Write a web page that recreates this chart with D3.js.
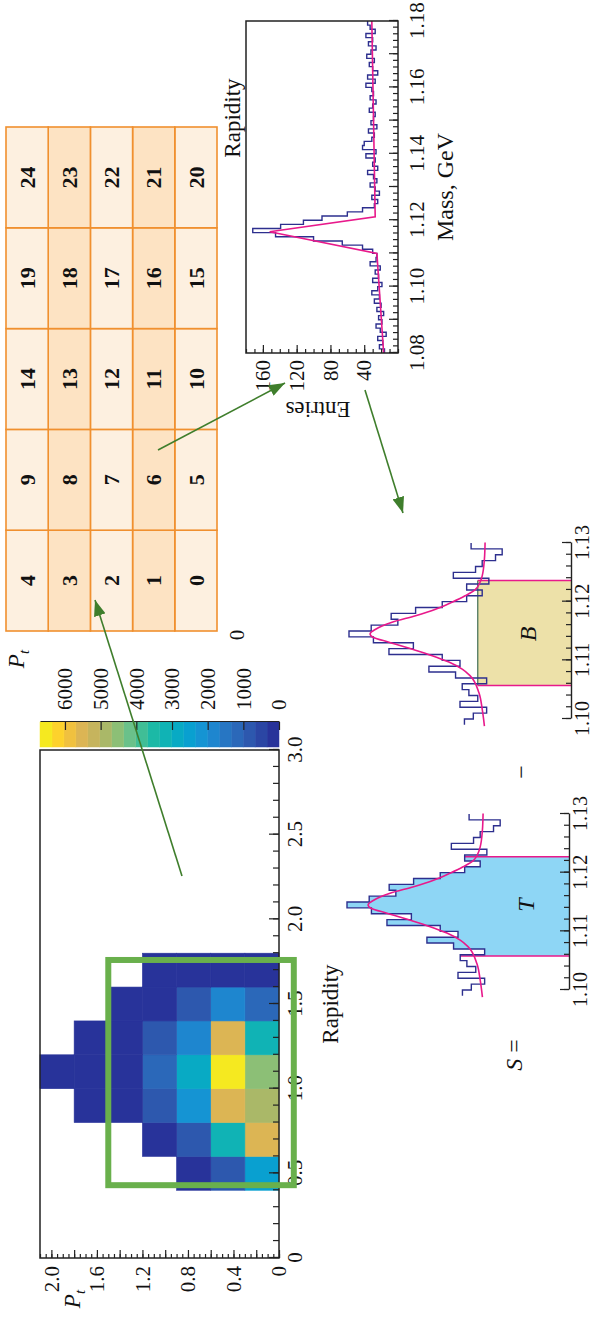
<!DOCTYPE html>
<html>
<head>
<meta charset="utf-8">
<script src="https://cdn.jsdelivr.net/npm/d3@7"></script>
<style>
  html, body { margin: 0; padding: 0; background: #fff; }
  svg { display: block; }
  text { font-family: "Liberation Serif", "DejaVu Serif", serif; fill: #111; }
</style>
</head>
<body>
<svg id="fig" width="594" height="1323"></svg>
<script>
// ---------------- data ----------------
// Heat map: lower bin edges (rapidity width 0.2, Pt width 0.3) and counts [rapidity][Pt]
const rapidityBins = [0.4, 0.6, 0.8, 1.0, 1.2, 1.4, 1.6];
const ptBins = [0, 0.3, 0.6, 0.9, 1.2, 1.5, 1.8];
const counts = [
  [2500,  800,  200,  null, null, null, null],
  [5500, 3300,  800,  150,  null, null, null],
  [4850, 5500, 2100,  800,  150,  100,  null],
  [4500, 6500, 2850, 1100,  150,  100,   60],
  [3200, 5500, 1800,  800,  150,  100,  null],
  [1100, 1800,  800,  150,  100,  null, null],
  [ 150,  100,   80,   50,  null, null, null]
];
const colorMax = 6700;
const colorBands = ["#28339a", "#2b46a4", "#2d58ae", "#2b68b9", "#2776c3", "#1e86cf", "#1594d3",
  "#09a0d0", "#08aac4", "#10b3b5", "#1cb9a6", "#40be96", "#6ac18a", "#8cbf76", "#aab868",
  "#c6b45d", "#dcb554", "#f0c13f", "#fdd22c", "#f5e920"];
const colorTicks = [0, 1000, 2000, 3000, 4000, 5000, 6000];
const rapidityTicks = [0, 0.5, 1.0, 1.5, 2.0, 2.5, 3.0];
const ptTicks = [0, 0.4, 0.8, 1.2, 1.6, 2.0];
const selRapidity = [0.43, 1.76];
const selPt = [-0.13, 1.5];

// Bin numbering table: 5 rapidity columns x 5 Pt rows
const tableCols = [0, 1, 2, 3, 4];
const tableRows = [0, 1, 2, 3, 4];
const cellIds = d3.range(25);

// Invariant mass spectrum of one bin
const massStart = 1.08, massBinWidth = 0.00125;
const massEntries = [
  16, 22, 18, 24, 14, 21, 26, 19, 23, 17,
  25, 20, 28, 22, 31, 24, 19, 30, 23, 27,
  21, 33, 26, 25, 30, 42, 66, 100, 145, 172,
  139, 112, 90, 60, 42, 28, 24, 31, 22, 27,
  33, 25, 29, 36, 24, 30, 27, 38, 26, 42,
  40, 31, 28, 35, 25, 32, 29, 27, 34, 30,
  26, 33, 29, 31, 38, 27, 36, 24, 30, 34,
  28, 37, 32, 26, 35, 30, 38, 27, 33, 36
];
const massFit = [[1.08, 17], [1.110, 25], [1.1165, 152], [1.121, 27], [1.18, 31]];
const massTicks = [1.08, 1.10, 1.12, 1.14, 1.16, 1.18];
const entryTicks = [40, 80, 120, 160];

// Zoomed peak used for the total (T) and background (B) windows
const zoomStart = 1.099, zoomBinWidth = 0.001;
const zoomEntries = [48, 44, 38, 50, 42, 46, 49, 38, 52, 64, 50, 58, 82, 71, 89, 100,
  90, 78, 81, 70, 58, 47, 40, 47, 37, 53, 43, 40, 34, 31, 45];
const zoomFit = [[1.0988, 39], [1.1017, 40], [1.1045, 41.5], [1.1074, 45.5], [1.1085, 49],
  [1.1097, 55], [1.1108, 62.5], [1.1119, 71.5], [1.1131, 82], [1.1139, 89], [1.1145, 90.5],
  [1.1153, 88], [1.1165, 80.6], [1.1176, 70], [1.1187, 61], [1.1199, 53.6], [1.1210, 47.7],
  [1.1221, 43], [1.1244, 40], [1.1273, 39], [1.1301, 38.7]];
const zoomTicks = [1.10, 1.11, 1.12, 1.13];
const windowT = [1.1058, 1.1227];
const windowB = [1.1057, 1.1236];
const bgLevel = 42;

// ---------------- drawing ----------------
const FONT = '"Liberation Serif", "DejaVu Serif", serif';
const svg = d3.select("#fig");
// whole figure is laid out landscape and turned a quarter turn
const root = svg.append("g").attr("transform", "translate(0,1323) rotate(-90)");

const GREEN = "#3f7e2c", NAVY = "#2d2f8e", PINK = "#e8198b";

function styleAxis(g, size) {
  g.attr("font-family", FONT).attr("font-size", size);
  g.selectAll(".tick line").attr("stroke", "#222").attr("stroke-width", 1.2);
  g.selectAll(".tick text").attr("fill", "#111");
  return g;
}

// ---- heat map ----
const xRap = d3.scaleLinear().domain([0, 3]).range([65, 573]);
const yPt = d3.scaleLinear().domain([0, 2.1]).range([279, 40]);
const color = d3.scaleQuantize().domain([0, colorMax]).range(colorBands);

const cells = [];
counts.forEach((row, i) => row.forEach((v, j) => {
  if (v != null) cells.push({ r: rapidityBins[i], p: ptBins[j], v });
}));
root.append("g").selectAll("rect").data(cells).join("rect")
  .attr("x", d => xRap(d.r))
  .attr("width", d => xRap(d.r + 0.2) - xRap(d.r))
  .attr("y", d => yPt(d.p + 0.3))
  .attr("height", d => yPt(d.p) - yPt(d.p + 0.3))
  .attr("fill", d => color(d.v))
  .attr("stroke", d => color(d.v)).attr("stroke-width", 0.6);

root.append("rect").attr("x", 65).attr("y", 40).attr("width", 508).attr("height", 239)
  .attr("fill", "none").attr("stroke", "#222").attr("stroke-width", 1.5);

// rapidity axis (ticks point into the frame)
const gx = root.append("g").attr("transform", "translate(0,279)");
gx.append("g").call(d3.axisBottom(xRap).tickValues(d3.range(0, 3.001, 0.1)).tickSizeInner(-6).tickSizeOuter(0).tickFormat(""))
  .call(g => g.select(".domain").remove()).call(g => styleAxis(g, 21));
gx.append("g").call(d3.axisBottom(xRap).tickValues(rapidityTicks).tickSizeInner(-10).tickSizeOuter(0).tickPadding(8)
    .tickFormat(d => d === 0 ? "0" : d.toFixed(1)))
  .call(g => g.select(".domain").remove()).call(g => styleAxis(g, 21));

// Pt axis
const gy = root.append("g").attr("transform", "translate(65,0)");
gy.append("g").call(d3.axisLeft(yPt).tickValues(d3.range(0, 2.1001, 0.05)).tickSizeInner(-4).tickSizeOuter(0).tickFormat(""))
  .call(g => g.select(".domain").remove()).call(g => styleAxis(g, 21));
gy.append("g").call(d3.axisLeft(yPt).tickValues(d3.range(0, 2.1001, 0.2)).tickSizeInner(-8).tickSizeOuter(0).tickFormat(""))
  .call(g => g.select(".domain").remove()).call(g => styleAxis(g, 21));
gy.append("g").call(d3.axisLeft(yPt).tickValues(ptTicks).tickSizeInner(0).tickSizeOuter(0).tickPadding(8)
    .tickFormat(d => d === 0 ? "0" : d.toFixed(1)))
  .call(g => g.select(".domain").remove()).call(g => g.selectAll(".tick line").remove()).call(g => styleAxis(g, 21));

root.append("text").attr("x", xRap(1.5)).attr("y", 338).attr("text-anchor", "middle")
  .attr("font-size", 23).text("Rapidity");
const ptLab = root.append("text").attr("x", 24).attr("y", 80).attr("text-anchor", "middle").attr("font-size", 23);
ptLab.append("tspan").attr("font-style", "italic").text("P");
ptLab.append("tspan").attr("font-style", "italic").attr("font-size", 15).attr("dy", 5).text("t");

// selection window
root.append("rect")
  .attr("x", xRap(selRapidity[0])).attr("width", xRap(selRapidity[1]) - xRap(selRapidity[0]))
  .attr("y", yPt(selPt[1])).attr("height", yPt(selPt[0]) - yPt(selPt[1]))
  .attr("fill", "none").attr("stroke", "#69b04c").attr("stroke-width", 6);

// colour bar
const yBar = d3.scaleLinear().domain([0, colorMax]).range([279, 40]);
root.append("g").selectAll("rect").data(colorBands).join("rect")
  .attr("x", 576).attr("width", 25)
  .attr("y", c => yBar(color.invertExtent(c)[1]))
  .attr("height", c => yBar(color.invertExtent(c)[0]) - yBar(color.invertExtent(c)[1]))
  .attr("fill", c => c).attr("stroke", c => c).attr("stroke-width", 0.5);
root.append("g").attr("transform", "translate(601,0)")
  .call(d3.axisRight(yBar).tickValues(colorTicks).tickSizeInner(-8).tickSizeOuter(0).tickPadding(12).tickFormat(d3.format("d")))
  .call(g => g.select(".domain").attr("stroke", "#222").attr("stroke-width", 1))
  .call(g => styleAxis(g, 21));

// ---- bin numbering table ----
const xTab = d3.scaleBand().domain(tableCols).range([692, 1196]);
const yTab = d3.scaleBand().domain(tableRows).range([217, 6]);
const tab = root.append("g");
tab.selectAll("rect").data(cellIds).join("rect")
  .attr("x", d => xTab(Math.floor(d / 5))).attr("width", xTab.bandwidth())
  .attr("y", d => yTab(d % 5)).attr("height", yTab.bandwidth())
  .attr("fill", d => (d % 5) % 2 === 1 ? "#fde3c3" : "#fdf0e0")
  .attr("stroke", "#f0902f").attr("stroke-width", 1.6);
tab.selectAll("text").data(cellIds).join("text")
  .attr("x", d => xTab(Math.floor(d / 5)) + xTab.bandwidth() / 2)
  .attr("y", d => yTab(d % 5) + yTab.bandwidth() / 2)
  .attr("dy", "0.35em").attr("text-anchor", "middle")
  .attr("font-size", 22).attr("font-weight", "bold").text(d => d);
root.append("text").attr("x", 688).attr("y", 244).attr("text-anchor", "middle").attr("font-size", 21).text("0");
const ptLab2 = root.append("text").attr("x", 664).attr("y", 24).attr("text-anchor", "middle").attr("font-size", 23);
ptLab2.append("tspan").attr("font-style", "italic").text("P");
ptLab2.append("tspan").attr("font-style", "italic").attr("font-size", 15).attr("dy", 5).text("t");

// ---- mass spectrum ----
const xMass = d3.scaleLinear().domain([1.08, 1.18]).range([970, 1302]);
const yEnt = d3.scaleLinear().domain([0, 180]).range([398, 246]);

function stepPoints(start, width, vals) {
  const pts = vals.map((v, i) => [start + i * width, v]);
  pts.push([start + vals.length * width, vals[vals.length - 1]]);
  return pts;
}
root.append("path")
  .attr("d", d3.line().x(d => xMass(d[0])).y(d => yEnt(d[1])).curve(d3.curveStepAfter)(stepPoints(massStart, massBinWidth, massEntries)))
  .attr("fill", "none").attr("stroke", NAVY).attr("stroke-width", 1.4);
root.append("path")
  .attr("d", d3.line().x(d => xMass(d[0])).y(d => yEnt(d[1]))(massFit))
  .attr("fill", "none").attr("stroke", PINK).attr("stroke-width", 1.6);
root.append("rect").attr("x", 970).attr("y", 246).attr("width", 332).attr("height", 152)
  .attr("fill", "none").attr("stroke", "#222").attr("stroke-width", 1.5);

const gm = root.append("g").attr("transform", "translate(0,398)");
gm.append("g").call(d3.axisBottom(xMass).tickValues(d3.range(1.08, 1.18001, 0.002)).tickSizeInner(-5).tickSizeOuter(0).tickFormat(""))
  .call(g => g.select(".domain").remove()).call(g => styleAxis(g, 21));
gm.append("g").call(d3.axisBottom(xMass).tickValues(d3.range(1.08, 1.18001, 0.01)).tickSizeInner(-9).tickSizeOuter(0).tickFormat(""))
  .call(g => g.select(".domain").remove()).call(g => styleAxis(g, 21));
gm.append("g").call(d3.axisBottom(xMass).tickValues(massTicks).tickSizeInner(0).tickSizeOuter(0).tickPadding(11).tickFormat(d3.format(".2f")))
  .call(g => g.select(".domain").remove()).call(g => g.selectAll(".tick line").remove()).call(g => styleAxis(g, 21));

const ge = root.append("g").attr("transform", "translate(970,0)");
ge.append("g").call(d3.axisLeft(yEnt).tickValues(d3.range(0, 180.1, 10)).tickSizeInner(-4).tickSizeOuter(0).tickFormat(""))
  .call(g => g.select(".domain").remove()).call(g => styleAxis(g, 21));
ge.append("g").call(d3.axisLeft(yEnt).tickValues(entryTicks).tickSizeInner(-8).tickSizeOuter(0).tickPadding(7))
  .call(g => g.select(".domain").remove()).call(g => styleAxis(g, 21));

root.append("text").attr("x", xMass(1.13)).attr("y", 453).attr("text-anchor", "middle").attr("font-size", 24).text("Mass, GeV");
root.append("text").attr("transform", "translate(921,318) rotate(-90)").attr("text-anchor", "middle").attr("font-size", 23).text("Entries");
root.append("text").attr("x", 1205).attr("y", 240).attr("text-anchor", "middle").attr("font-size", 23).text("Rapidity");

// ---- T and B windows ----
const yZ = d3.scaleLinear().domain([0, 100]).range([569, 347]);
function histValue(m) {
  const i = Math.min(zoomEntries.length - 1, Math.max(0, Math.floor((m - zoomStart) / zoomBinWidth)));
  return zoomEntries[i];
}
function drawPanel(id, x0, baseY, win, mode) {
  const x = d3.scaleLinear().domain([1.10, 1.13]).range([x0, x0 + 176]);
  const y = yZ.copy().range([baseY, baseY - 222]);
  const g = root.append("g");
  const pts = stepPoints(zoomStart, zoomBinWidth, zoomEntries);
  if (mode === "T") {
    const clipId = "clip" + id;
    g.append("clipPath").attr("id", clipId).append("rect")
      .attr("x", x(win[0])).attr("width", x(win[1]) - x(win[0])).attr("y", 0).attr("height", baseY);
    g.append("path")
      .attr("d", d3.area().x(d => x(d[0])).y0(baseY).y1(d => y(d[1])).curve(d3.curveStepAfter)(pts))
      .attr("fill", "#8ed6f5").attr("clip-path", `url(#${clipId})`);
    win.forEach(m => g.append("line").attr("x1", x(m)).attr("x2", x(m)).attr("y1", baseY).attr("y2", y(histValue(m)))
      .attr("stroke", PINK).attr("stroke-width", 1.5));
  } else {
    g.append("rect").attr("x", x(win[0])).attr("width", x(win[1]) - x(win[0]))
      .attr("y", y(bgLevel)).attr("height", baseY - y(bgLevel)).attr("fill", "#ede1a9");
    g.append("line").attr("x1", x(win[0])).attr("x2", x(win[1])).attr("y1", y(bgLevel)).attr("y2", y(bgLevel))
      .attr("stroke", "#3f6e55").attr("stroke-width", 1.2);
    win.forEach(m => g.append("line").attr("x1", x(m)).attr("x2", x(m)).attr("y1", baseY).attr("y2", y(bgLevel))
      .attr("stroke", PINK).attr("stroke-width", 1.5));
  }
  g.append("path")
    .attr("d", d3.line().x(d => x(d[0])).y(d => y(d[1])).curve(d3.curveStepAfter)(pts))
    .attr("fill", "none").attr("stroke", NAVY).attr("stroke-width", 1.4);
  g.append("path")
    .attr("d", d3.line().x(d => x(d[0])).y(d => y(d[1])).curve(d3.curveMonotoneX)(zoomFit))
    .attr("fill", "none").attr("stroke", PINK).attr("stroke-width", 1.6);
  const ga = g.append("g").attr("transform", `translate(0,${baseY})`);
  ga.append("g").call(d3.axisBottom(x).tickValues(d3.range(1.10, 1.13001, 0.002)).tickSizeInner(-5).tickSizeOuter(0).tickFormat(""))
    .call(s => s.select(".domain").attr("stroke", "#222").attr("stroke-width", 1.4)).call(s => styleAxis(s, 20));
  ga.append("g").call(d3.axisBottom(x).tickValues(zoomTicks).tickSizeInner(-9).tickSizeOuter(0).tickPadding(4).tickFormat(d3.format(".2f")))
    .call(s => s.select(".domain").remove()).call(s => styleAxis(s, 20));
  g.append("text").attr("x", x(1.1145)).attr("y", baseY - 35).attr("text-anchor", "middle")
    .attr("font-size", 24).attr("font-style", "italic").text(mode);
}
drawPanel("T", 333, 569, windowT, "T");
drawPanel("B", 604, 571, windowB, "B");

const sEq = root.append("text").attr("x", 268).attr("y", 522).attr("text-anchor", "middle").attr("font-size", 24);
sEq.append("tspan").attr("font-style", "italic").text("S");
sEq.append("tspan").text(" =");
root.append("text").attr("x", 551).attr("y", 529).attr("text-anchor", "middle").attr("font-size", 24).text("\u2212");

// ---- connecting arrows ----
const defs = svg.append("defs");
defs.append("marker").attr("id", "head").attr("viewBox", "0 0 16 12")
  .attr("refX", 16).attr("refY", 6).attr("markerWidth", 16).attr("markerHeight", 12)
  .attr("markerUnits", "userSpaceOnUse").attr("orient", "auto")
  .append("path").attr("d", "M0,0 L16,6 L0,12 Z").attr("fill", GREEN);
const arrows = [
  [[447, 182], [723, 95]],
  [[873, 158], [940, 285]],
  [[933, 365], [810, 403]]
];
root.append("g").selectAll("line").data(arrows).join("line")
  .attr("x1", d => d[0][0]).attr("y1", d => d[0][1])
  .attr("x2", d => d[1][0]).attr("y2", d => d[1][1])
  .attr("stroke", GREEN).attr("stroke-width", 1.6).attr("marker-end", "url(#head)");
</script>
</body>
</html>
